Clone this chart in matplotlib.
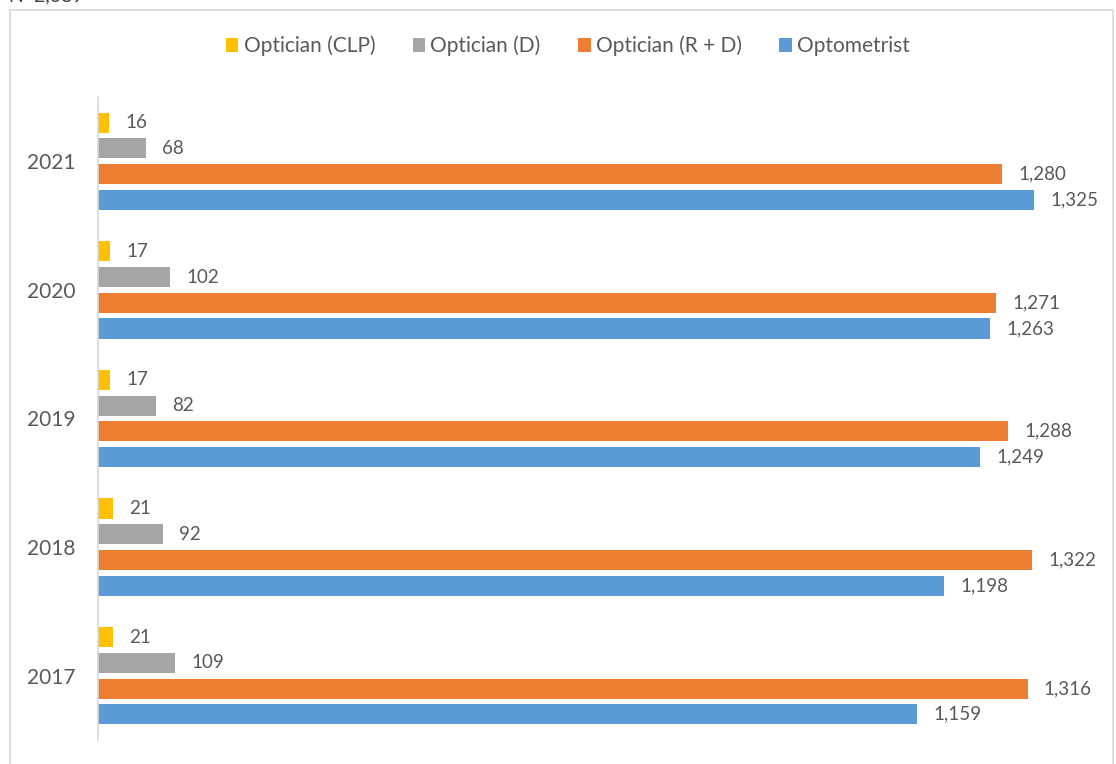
import numpy as np
import matplotlib.pyplot as plt
from matplotlib.patches import Rectangle

years = ['2017', '2018', '2019', '2020', '2021']
series = ['Optician (CLP)', 'Optician (D)', 'Optician (R + D)', 'Optometrist']
clp = [21, 21, 17, 17, 16]
disp = [109, 92, 82, 102, 68]
rd = [1316, 1322, 1288, 1271, 1280]
optom = [1159, 1198, 1249, 1263, 1325]
colors = ['#FFC000', '#A5A5A5', '#ED7D31', '#5B9BD5']
note = 'N=2,689'

plt.rcParams['font.family'] = ['Lato', 'DejaVu Sans']
txt = '#595959'

fig = plt.figure(figsize=(11.16, 7.64), dpi=100)
W, H = 1116., 764.
# plot area: x 99..1087 px, y 97..740 px
ax = fig.add_axes([98 / W, 24 / H, (1087 - 98) / W, (740 - 97) / H])

# chart frame (bottom edge is off the picture)
fig.patches.append(Rectangle((10 / W, -0.1), (1113 - 10) / W, (754 / H) + 0.1,
                             transform=fig.transFigure, fill=False,
                             edgecolor='#D9D9D9', linewidth=1.2, zorder=0))
# note above the chart, cut off by the top edge as in the original
fig.text(8 / W, 1.0 + 4 / H, note, fontsize=14, color='#404040', va='center', ha='left')

y = np.arange(len(years))
offsets = [0.3, 0.1, -0.1, -0.3]
h = 0.156
for vals, name, col, off in zip([clp, disp, rd, optom], series, colors, offsets):
    bars = ax.barh(y + off, vals, height=h, color=col, label=name)
    for b, v in zip(bars, vals):
        ax.text(v + 23, b.get_y() + b.get_height() / 2, '{:,}'.format(v),
                va='center', ha='left', fontsize=13.5, color=txt)

ax.set_xlim(0, 1400)
ax.set_ylim(-0.5, 4.5)
ax.set_yticks(y)
ax.set_yticklabels(years, fontsize=15, color=txt)
ax.tick_params(axis='y', length=0, pad=16)
ax.set_xticks([])
for s in ['top', 'right', 'bottom']:
    ax.spines[s].set_visible(False)
ax.spines['left'].set_color('#D9D9D9')
ax.spines['left'].set_linewidth(1.2)

leg = fig.legend(loc='center', bbox_to_anchor=(568 / W, 1 - 46 / H), ncol=4, frameon=False,
                 fontsize=15, handlelength=0.6, handleheight=0.6, handletextpad=0.25,
                 columnspacing=1.8)
for t in leg.get_texts():
    t.set_color(txt)

fig.savefig('out.png', dpi=100)
